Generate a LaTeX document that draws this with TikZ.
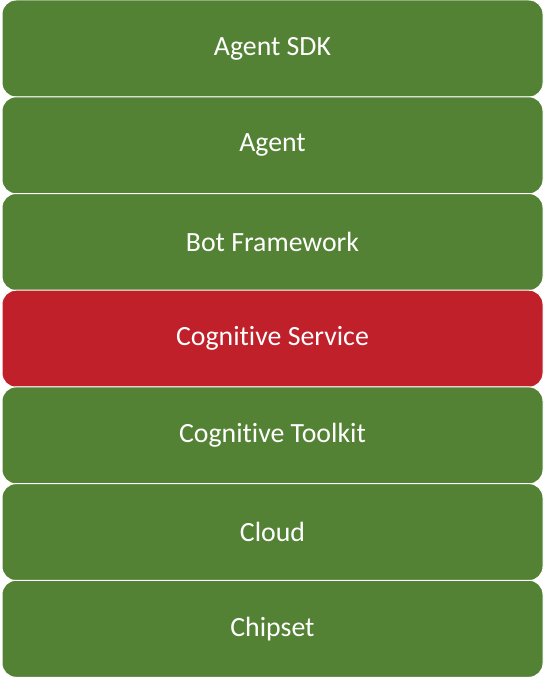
\documentclass[tikz,border=0pt]{standalone}
\usepackage{fontspec}
\setmainfont[Ligatures={NoCommon}]{Carlito}
\definecolor{layergreen}{HTML}{548235}
\definecolor{layerred}{HTML}{C0202A}
\begin{document}
\begin{tikzpicture}[x=1pt,y=-1pt,
  layer/.style={draw=white, line width=1pt, fill=layergreen, rounded corners=14pt,
    minimum width=541pt, minimum height=97pt, inner sep=0pt, text=white,
    font=\fontsize{27.8}{32}\selectfont, anchor=north west},
  hot/.style={fill=layerred}]
\useasboundingbox (0,0) rectangle (544,677);
\node[layer] (sdk) at (1.5,-0.5) {Agent SDK};
\node[layer] (agent) at (1.5,96.3) {Agent};
\node[layer] (bot) at (1.5,193.0) {Bot Framework};
\node[layer,hot] (cogsvc) at (1.5,289.7) {Cognitive Service};
\node[layer] (cntk) at (1.5,386.4) {Cognitive Toolkit};
\node[layer] (cloud) at (1.5,483.1) {Cloud};
\node[layer] (chip) at (1.5,579.8) {Chipset};
\end{tikzpicture}
\end{document}
